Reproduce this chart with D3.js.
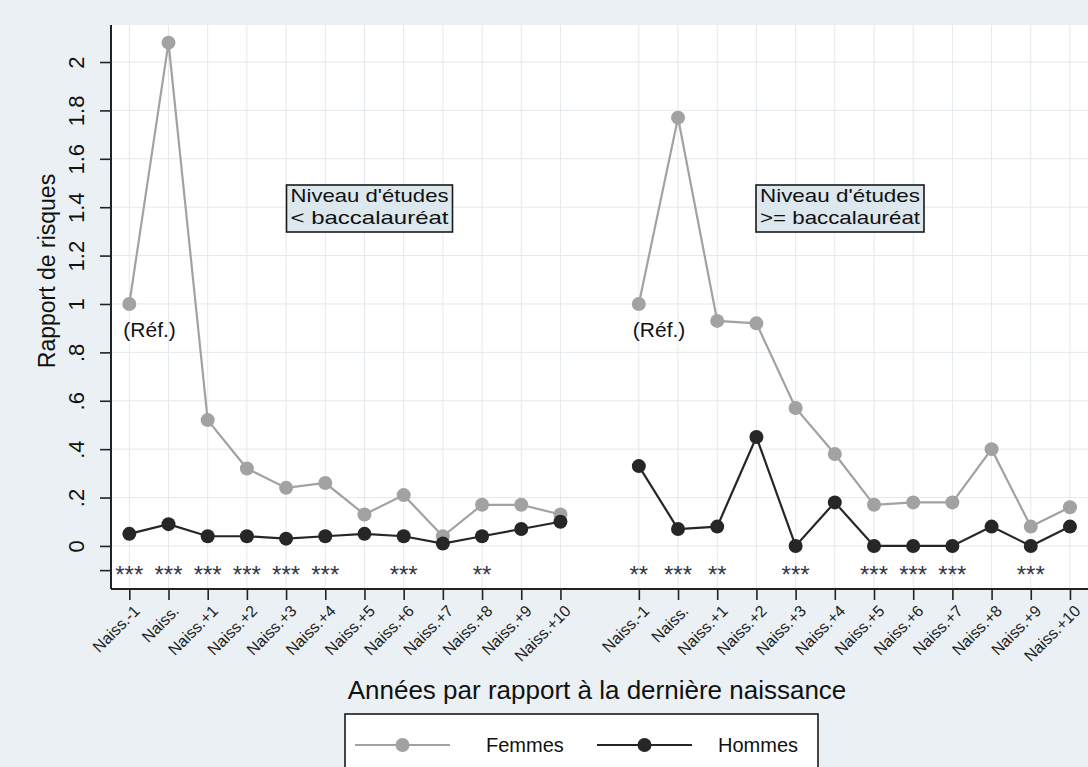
<!DOCTYPE html>
<html><head><meta charset="utf-8">
<script src="https://cdn.jsdelivr.net/npm/d3@7"></script>
<style>
html,body{margin:0;padding:0;background:#eaf0f3;}
svg{display:block;font-family:"Liberation Sans",Arial,sans-serif;}
</style></head>
<body>
<svg id="chart" width="1088" height="767"></svg>
<script>
// ---- data ----
const categories = ["Naiss.-1","Naiss.","Naiss.+1","Naiss.+2","Naiss.+3","Naiss.+4","Naiss.+5","Naiss.+6","Naiss.+7","Naiss.+8","Naiss.+9","Naiss.+10"];
const femmesBas  = [1.00, 2.08, 0.52, 0.32, 0.24, 0.26, 0.13, 0.21, 0.04, 0.17, 0.17, 0.13];
const hommesBas  = [0.05, 0.09, 0.04, 0.04, 0.03, 0.04, 0.05, 0.04, 0.01, 0.04, 0.07, 0.10];
const femmesHaut = [1.00, 1.77, 0.93, 0.92, 0.57, 0.38, 0.17, 0.18, 0.18, 0.40, 0.08, 0.16];
const hommesHaut = [0.33, 0.07, 0.08, 0.45, 0.00, 0.18, 0.00, 0.00, 0.00, 0.08, 0.00, 0.08];
const etoilesBas  = ["***","***","***","***","***","***","","***","","**","",""];
const etoilesHaut = ["**","***","**","","***","","***","***","***","","***",""];
const panelTitles = [["Niveau d'études","< baccalauréat"],["Niveau d'études",">= baccalauréat"]];
const refLabel = "(Réf.)";
const yTicks = [0,0.2,0.4,0.6,0.8,1,1.2,1.4,1.6,1.8,2];
const yTickLabels = ["0",".2",".4",".6",".8","1","1.2","1.4","1.6","1.8","2"];
const starLevel = -0.1;
const yTitle = "Rapport de risques";
const xTitle = "Années par rapport à la dernière naissance";
const legendLabels = ["Femmes","Hommes"];

// ---- layout ----
const svg = d3.select("#chart");
const L = 111, R = 1088, T = 25, B = 589;
const panelOffset = [0, 13];
const x = d3.scaleLinear().domain([-0.467, 24.46]).range([L, R]);
const y = d3.scaleLinear().domain([-0.178, 2.153]).range([B, T]);
const colF = "#a2a2a2", colH = "#262626";

svg.append("rect").attr("x",0).attr("y",0).attr("width",1088).attr("height",767).attr("fill","#eaf0f3");
svg.append("rect").attr("x",L).attr("y",T).attr("width",R-L).attr("height",B-T).attr("fill","#ffffff");

const positions = [];
panelOffset.forEach(o => categories.forEach((c,i) => positions.push(o+i)));
const labelOf = p => categories[p >= 13 ? p-13 : p];

// grid
const grid = svg.append("g");
grid.selectAll("line.h").data(yTicks).join("line")
  .attr("x1",L).attr("x2",R).attr("y1",d=>y(d)).attr("y2",d=>y(d))
  .attr("stroke","#e3e9ed").attr("stroke-width",1);
grid.selectAll("line.v").data(positions).join("line")
  .attr("x1",d=>x(d)).attr("x2",d=>x(d)).attr("y1",T).attr("y2",B)
  .attr("stroke","#e3e9ed").attr("stroke-width",1);

// axes
const yAxis = d3.axisLeft(y).tickValues([starLevel].concat(yTicks)).tickSize(11).tickPadding(6)
  .tickFormat(d => { const i = yTicks.indexOf(d); return i<0 ? "" : yTickLabels[i]; });
const gy = svg.append("g").attr("transform",`translate(${L},0)`).call(yAxis);
gy.select(".domain").attr("stroke","#222").attr("stroke-width",2).attr("d",`M0,${T}V${B}`);
gy.selectAll(".tick line").attr("stroke","#222").attr("stroke-width",1.6);
gy.selectAll(".tick text").attr("font-size",22).attr("fill","#111")
  .attr("text-anchor","middle").attr("x",0).attr("dy",0)
  .attr("transform","translate(-27,0) rotate(-90)").attr("y",0);

const xAxis = d3.axisBottom(x).tickValues(positions).tickSize(11).tickFormat(labelOf);
const gx = svg.append("g").attr("transform",`translate(0,${B})`).call(xAxis);
gx.select(".domain").attr("stroke","#222").attr("stroke-width",2).attr("d",`M${L},0H${R}`);
gx.selectAll(".tick line").attr("stroke","#222").attr("stroke-width",1.6);
gx.selectAll(".tick text").attr("font-size",16).attr("fill","#222")
  .attr("text-anchor","end").attr("x",0).attr("y",0).attr("dy","0.35em")
  .attr("transform","translate(7,19) rotate(-45)");

// series
const series = [
  {vals: femmesBas, off: 0, col: colF},
  {vals: femmesHaut, off: 13, col: colF},
  {vals: hommesBas, off: 0, col: colH},
  {vals: hommesHaut, off: 13, col: colH}
];
const line = d3.line().x(d=>x(d.p)).y(d=>y(d.v));
series.forEach(s => {
  const pts = s.vals.map((v,i)=>({p:s.off+i, v}));
  svg.append("path").datum(pts).attr("d",line).attr("fill","none")
    .attr("stroke",s.col).attr("stroke-width",2.2);
  svg.append("g").selectAll("circle").data(pts).join("circle")
    .attr("cx",d=>x(d.p)).attr("cy",d=>y(d.v)).attr("r",7).attr("fill",s.col);
});

// stars
[[etoilesBas,0],[etoilesHaut,13]].forEach(([arr,off]) => {
  svg.append("g").selectAll("text").data(arr.map((s,i)=>({s,p:off+i}))).join("text")
    .attr("x",d=>x(d.p)).attr("y",y(starLevel)+13).attr("text-anchor","middle")
    .attr("font-size",24).attr("fill","#333846").text(d=>d.s);
});

// (Réf.)
[0,13].forEach(o => {
  svg.append("text").attr("x",x(o)-6).attr("y",y(1)+33).attr("font-size",21)
    .attr("fill","#111").text(refLabel);
});

// panel title boxes
[[0,369.5],[1,840]].forEach(([k,cx]) => {
  const g = svg.append("g");
  const w = k===0 ? 166 : 168;
  g.append("rect").attr("x",cx-w/2).attr("y",185).attr("width",w).attr("height",47)
    .attr("fill","#dce7ee").attr("stroke","#1a1a1a").attr("stroke-width",1.6);
  panelTitles[k].forEach((t,j) => {
    g.append("text").attr("x",cx).attr("y",202+j*22).attr("text-anchor","middle")
      .attr("font-size",18.5).attr("textLength",w-8).attr("lengthAdjust","spacingAndGlyphs")
      .attr("fill","#111").text(t);
  });
});

// titles
svg.append("text").attr("transform",`translate(55,${(T+B)/2 - 36}) rotate(-90)`)
  .attr("text-anchor","middle").attr("font-size",23).attr("fill","#111").text(yTitle);
svg.append("text").attr("x",597).attr("y",699).attr("text-anchor","middle")
  .attr("font-size",26).attr("fill","#111").text(xTitle);

// legend
const lg = svg.append("g");
lg.append("rect").attr("x",345).attr("y",714).attr("width",473).attr("height",70)
  .attr("fill","#fff").attr("stroke","#1a1a1a").attr("stroke-width",1.6);
const legItems = [{lab:legendLabels[0], col:colF, x0:355, x1:450, tx:486},
                  {lab:legendLabels[1], col:colH, x0:597, x1:692, tx:718}];
legItems.forEach(it => {
  lg.append("line").attr("x1",it.x0).attr("x2",it.x1).attr("y1",745).attr("y2",745)
    .attr("stroke",it.col).attr("stroke-width",2);
  lg.append("circle").attr("cx",(it.x0+it.x1)/2).attr("cy",745).attr("r",7).attr("fill",it.col);
  lg.append("text").attr("x",it.tx).attr("y",752).attr("font-size",20).attr("fill","#111").text(it.lab);
});
</script>
</body></html>
